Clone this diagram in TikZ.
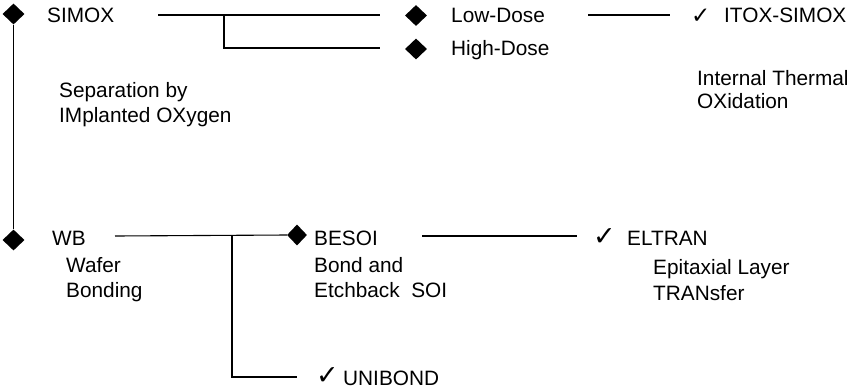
\documentclass[tikz,border=0pt]{standalone}
\usepackage{fontspec}
\setmainfont{Liberation Sans}
\newfontfamily\symfont{DejaVu Sans}
\usetikzlibrary{shapes.geometric}
\begin{document}
\begin{tikzpicture}[x=1pt,y=-1pt,
  dia/.style={diamond,fill=black,inner sep=0pt,minimum width=22pt,minimum height=21pt},
  lbl/.style={anchor=base west,inner sep=0pt,font=\fontsize{20.8}{25}\selectfont},
  chk/.style={anchor=base west,inner sep=0pt,font=\symfont\fontsize{27}{30}\selectfont},
  conn/.style={line width=1.1pt}]
\useasboundingbox (0,0) rectangle (851,389);
% diamonds
\node[dia] (dSimox) at (13.5,14) {};
\node[dia] (dWB) at (13.5,240) {};
\node[dia] (dLow) at (416,15.5) {};
\node[dia] (dHigh) at (416,49) {};
\node[dia,minimum width=20pt] (dBesoi) at (297,235) {};
% labels
\node[lbl] (simox) at (47,22) {SIMOX};
\node[lbl] (low) at (451,22) {Low-Dose};
\node[lbl] (high) at (451,55) {High-Dose};
\node[lbl] (itox) at (724,22) {ITOX-SIMOX};
\node[lbl] (itoxa) at (697,85) {Internal Thermal};
\node[lbl] (itoxb) at (697,108) {OXidation};
\node[lbl] (sepa) at (59,97) {Separation by};
\node[lbl] (sepb) at (59,122) {IMplanted OXygen};
\node[lbl] (wb) at (52,245) {WB};
\node[lbl] (wba) at (66,272) {Wafer};
\node[lbl] (wbb) at (66,297) {Bonding};
\node[lbl] (besoi) at (314,245) {BESOI};
\node[lbl] (besoia) at (314,272) {Bond and};
\node[lbl] (besoib) at (314,297) {Etchback\ \ SOI};
\node[lbl] (eltran) at (627,245) {ELTRAN};
\node[lbl] (eltrana) at (653,274) {Epitaxial Layer};
\node[lbl] (eltranb) at (653,300) {TRANsfer};
\node[lbl] (unibond) at (343,385) {UNIBOND};
% check marks
\node[chk,font=\symfont\fontsize{23}{26}\selectfont] (cItox) at (691,23) {✓};
\node[chk] (cEltran) at (593,245) {✓};
\node[chk] (cUni) at (316,384) {✓};
% connector points
\coordinate (s1) at (158,15);
\coordinate (s2) at (380,15);
\coordinate (sb) at (224,15);
\coordinate (sb2) at (224,48);
\coordinate (s3) at (380,48);
\coordinate (l1) at (588,15);
\coordinate (l2) at (670,15);
\coordinate (w1) at (115,236);
\coordinate (wbr) at (232,236);
\coordinate (wbr2) at (232,377);
\coordinate (w3) at (297,377);
\coordinate (b1) at (422,236);
\coordinate (b2) at (577,236);
% connectors
\draw[conn] (dSimox) -- (dWB);
\draw[conn] (s1) -- (s2);
\draw[conn] (sb) -- (sb2) -- (s3);
\draw[conn] (l1) -- (l2);
\draw[conn] (w1) -- (dBesoi.west);
\draw[conn] (wbr) -- (wbr2) -- (w3);
\draw[conn] (b1) -- (b2);
\end{tikzpicture}
\end{document}
